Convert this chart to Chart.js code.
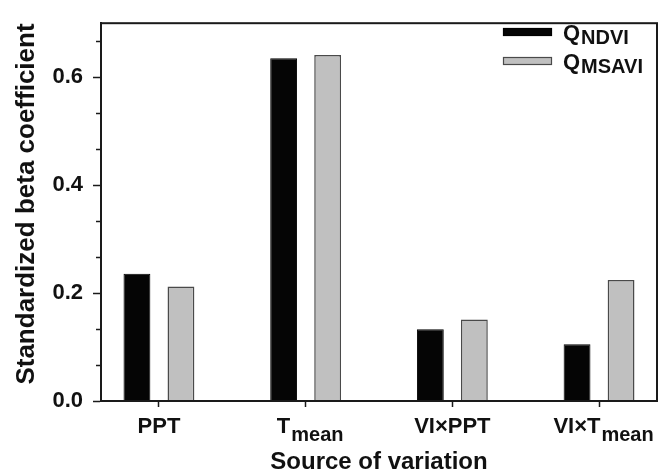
<!DOCTYPE html>
<html>
<head>
<meta charset="utf-8">
<script src="https://cdn.jsdelivr.net/npm/chart.js@4"></script>
<style>
  html, body { margin: 0; padding: 0; background: #fff; }
  #wrap { width: 672px; height: 474px; }
</style>
</head>
<body>
<div id="wrap"><canvas id="chart" width="672" height="474"></canvas></div>
<script>
// values
const categories = ['PPT', 'T_mean', 'VI×PPT', 'VI×T_mean'];
const seriesNames = ['Q_NDVI', 'Q_MSAVI'];
const qNdvi = [0.236, 0.635, 0.133, 0.105];
const qMsavi = [0.212, 0.641, 0.151, 0.224];
const yTicks = [0, 0.2, 0.4, 0.6];
const yMinorTicks = [0.2/3, 0.4/3, 0.8/3, 1.0/3, 1.4/3, 1.6/3, 2.0/3];

const FONT = "'Liberation Sans', Arial, sans-serif";
const AXIS = '#1a1a1a';

// draws "main_sub" text with a lowered subscript
function drawSubText(ctx, text, x, y, mainSize, subSize, drop, align) {
  const parts = text.split('_');
  ctx.font = 'bold ' + mainSize + 'px ' + FONT;
  const w1 = ctx.measureText(parts[0]).width;
  let w2 = 0;
  if (parts[1]) {
    ctx.font = 'bold ' + subSize + 'px ' + FONT;
    w2 = ctx.measureText(parts[1]).width;
  }
  let x0 = align === 'left' ? x : x - (w1 + w2) / 2;
  ctx.textAlign = 'left';
  ctx.textBaseline = 'alphabetic';
  ctx.font = 'bold ' + mainSize + 'px ' + FONT;
  ctx.fillText(parts[0], x0, y);
  if (parts[1]) {
    ctx.font = 'bold ' + subSize + 'px ' + FONT;
    ctx.fillText(parts[1], x0 + w1 + 1, y + drop);
  }
}

const extras = {
  id: 'extras',
  afterDraw(chart) {
    const ctx = chart.ctx;
    const a = chart.chartArea;
    const xs = chart.scales.x, ys = chart.scales.y;
    ctx.save();
    // frame
    ctx.strokeStyle = AXIS;
    ctx.lineWidth = 2;
    ctx.strokeRect(a.left, a.top, a.right - a.left, a.bottom - a.top);
    // minor y ticks
    ctx.lineWidth = 1.5;
    yMinorTicks.forEach(v => {
      const y = Math.round(ys.getPixelForValue(v)) + 0.5;
      ctx.beginPath();
      ctx.moveTo(a.left - 5, y);
      ctx.lineTo(a.left, y);
      ctx.stroke();
    });
    // y title
    ctx.fillStyle = '#111';
    ctx.save();
    ctx.translate(27, 204);
    ctx.rotate(-Math.PI / 2);
    ctx.font = 'bold 26px ' + FONT;
    ctx.textAlign = 'center';
    ctx.textBaseline = 'middle';
    ctx.fillText('Standardized beta coefficient', 0, 0);
    ctx.restore();
    // category labels
    categories.forEach((c, i) => {
      const x = xs.getPixelForValue(i + 1);
      drawSubText(ctx, c, x + (c.includes('_') ? 4 : 0), a.bottom + 32, 22, 20, 8, 'center');
    });
    // legend
    const colors = [['#050505', '#000'], ['#c0c0c0', '#4a4a4a']];
    seriesNames.forEach((s, i) => {
      const top = 28 + i * 29;
      ctx.fillStyle = colors[i][0];
      ctx.fillRect(503, top, 49, 8);
      ctx.strokeStyle = colors[i][1];
      ctx.lineWidth = 1.2;
      ctx.strokeRect(503.5, top + 0.5, 48, 7);
      ctx.fillStyle = '#111';
      drawSubText(ctx, s, 563, top + 12, 22, 20, 4, 'left');
    });
    ctx.restore();
  }
};

new Chart(document.getElementById('chart'), {
  type: 'bar',
  data: {
    datasets: [
      {
        label: seriesNames[0],
        data: qNdvi.map((v, i) => ({ x: i + 1, y: v })),
        backgroundColor: '#050505',
        borderColor: '#000',
        borderWidth: 1
      },
      {
        label: seriesNames[1],
        data: qMsavi.map((v, i) => ({ x: i + 1, y: v })),
        backgroundColor: '#c0c0c0',
        borderColor: '#4a4a4a',
        borderWidth: 1.5
      }
    ]
  },
  options: {
    responsive: false,
    animation: false,
    categoryPercentage: 0.6,
    barPercentage: 0.61,
    layout: { padding: { top: 11, right: 15, left: 0, bottom: 0 } },
    plugins: { legend: { display: false }, tooltip: { enabled: false } },
    scales: {
      x: {
        type: 'linear',
        offset: false,
        min: 0.605,
        max: 4.395,
        afterBuildTicks: s => { s.ticks = categories.map((c, i) => ({ value: i + 1 })); },
        afterFit: s => { s.height = 73; },
        ticks: { display: false },
        grid: { offset: false, drawOnChartArea: false, drawTicks: true, tickLength: 6, tickColor: AXIS, tickWidth: 1.5 },
        border: { color: AXIS, width: 2 },
        title: {
          display: true,
          text: 'Source of variation',
          color: '#111',
          font: { family: FONT, size: 24, weight: 'bold', lineHeight: 1 },
          padding: { top: 0, bottom: 0 }
        }
      },
      y: {
        min: 0,
        max: 0.7,
        afterBuildTicks: s => { s.ticks = yTicks.map(v => ({ value: v })); },
        afterFit: s => { s.width = 101; },
        ticks: {
          color: '#111',
          padding: 10,
          font: { family: FONT, size: 22, weight: 'bold' },
          callback: v => Number(v).toFixed(1)
        },
        grid: { drawOnChartArea: false, drawTicks: true, tickLength: 8, tickColor: AXIS, tickWidth: 1.5 },
        border: { color: AXIS, width: 2 }
      }
    }
  },
  plugins: [extras]
});
</script>
</body>
</html>
